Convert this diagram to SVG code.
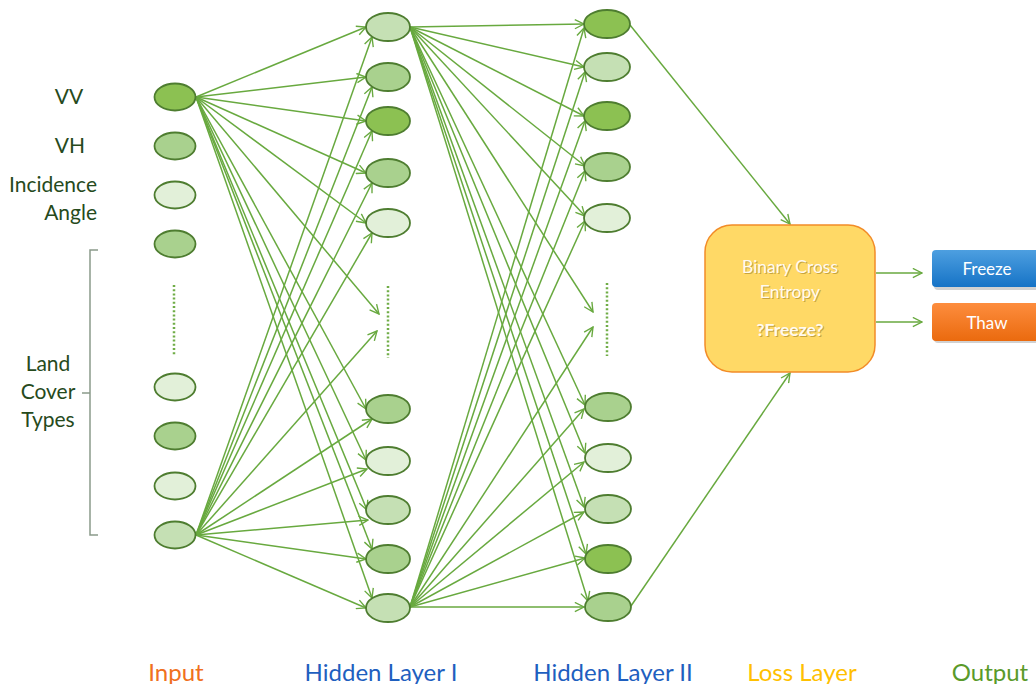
<svg xmlns="http://www.w3.org/2000/svg" width="1036" height="684" viewBox="0 0 1036 684">
<defs>
<style>
.n{stroke:#4e7d30;stroke-width:1.8}
.b{fill:#8cc152}.m{fill:#a9d18e}.l{fill:#c5e0b4}.x{fill:#e2f0d9}
.c{stroke:#68a93f;stroke-width:1.5;fill:none;marker-end:url(#ah)}
.dots{stroke:#70ad47;stroke-width:2.5;stroke-dasharray:2 2.2;fill:none}
.lbl{font-family:Lato,"Liberation Sans",sans-serif;font-size:21px;fill:#264a1c}
.ax{font-family:Lato,"Liberation Sans",sans-serif;font-size:24px;text-anchor:middle}
.lt{font-family:Lato,"Liberation Sans",sans-serif;font-size:17.5px;text-anchor:middle}
.ot{font-family:Lato,"Liberation Sans",sans-serif;font-size:17px;text-anchor:middle;fill:#ffffff}
</style>
<marker id="ah" viewBox="0 0 12 12" refX="11" refY="6" markerWidth="11" markerHeight="11" markerUnits="userSpaceOnUse" orient="auto">
<path d="M1,1 L11,6 L1,11" fill="none" stroke="#68a93f" stroke-width="1.5"/>
</marker>
<linearGradient id="gb" x1="0" y1="0" x2="0" y2="1"><stop offset="0" stop-color="#4d9fe0"/><stop offset="1" stop-color="#1673c6"/></linearGradient>
<linearGradient id="go" x1="0" y1="0" x2="0" y2="1"><stop offset="0" stop-color="#fd8d3e"/><stop offset="1" stop-color="#ea6a0e"/></linearGradient>
</defs>
<rect width="1036" height="684" fill="#ffffff"/>

<g id="connectors">
<path class="c" d="M196,97 L366,27"/>
<path class="c" d="M196,97 L366,77"/>
<path class="c" d="M196,97 L366,121"/>
<path class="c" d="M196,97 L366,173"/>
<path class="c" d="M196,97 L366,223"/>
<path class="c" d="M196,97 L379,314"/>
<path class="c" d="M196,97 L366,409"/>
<path class="c" d="M196,97 L366,460"/>
<path class="c" d="M196,97 L367,510"/>
<path class="c" d="M196,97 L372,549"/>
<path class="c" d="M196,97 L372,598"/>
<path class="c" d="M196,535 L372,37"/>
<path class="c" d="M196,535 L372,87"/>
<path class="c" d="M196,535 L372,131"/>
<path class="c" d="M196,535 L372,183"/>
<path class="c" d="M196,535 L372,233"/>
<path class="c" d="M196,535 L377,331"/>
<path class="c" d="M196,535 L372,419"/>
<path class="c" d="M196,535 L367,469"/>
<path class="c" d="M196,535 L368,520"/>
<path class="c" d="M196,535 L366,559"/>
<path class="c" d="M196,535 L366,608"/>
<path class="c" d="M410,27 L584,24"/>
<path class="c" d="M410,27 L584,67"/>
<path class="c" d="M410,27 L584,116"/>
<path class="c" d="M410,27 L585,166"/>
<path class="c" d="M410,27 L585,216"/>
<path class="c" d="M410,27 L593,312"/>
<path class="c" d="M410,27 L585,405"/>
<path class="c" d="M410,27 L585,453"/>
<path class="c" d="M410,27 L584,507"/>
<path class="c" d="M410,27 L586,554"/>
<path class="c" d="M410,27 L588,601"/>
<path class="c" d="M410,607 L584,28"/>
<path class="c" d="M410,607 L585,72"/>
<path class="c" d="M410,607 L585,121"/>
<path class="c" d="M410,607 L585,171"/>
<path class="c" d="M410,607 L585,221"/>
<path class="c" d="M410,607 L593,327"/>
<path class="c" d="M410,607 L584,409"/>
<path class="c" d="M410,607 L584,462"/>
<path class="c" d="M410,607 L584,512"/>
<path class="c" d="M410,607 L585,558"/>
<path class="c" d="M410,607 L584,607"/>
<path class="c" d="M630,25 L790,224"/>
<path class="c" d="M631,606 L790,373"/>
<path class="c" d="M876,273 L922,273"/>
<path class="c" d="M876,322 L922,322"/>
</g>

<g id="input-layer">
<ellipse class="n b" cx="175" cy="97" rx="20.5" ry="13.5"/>
<ellipse class="n m" cx="175" cy="146" rx="20.5" ry="13.5"/>
<ellipse class="n x" cx="175" cy="195" rx="20.5" ry="13.5"/>
<ellipse class="n m" cx="175" cy="244" rx="20.5" ry="13.5"/>
<path class="dots" d="M174,285 V356"/>
<ellipse class="n x" cx="175" cy="387" rx="20.5" ry="13.5"/>
<ellipse class="n m" cx="175" cy="436" rx="20.5" ry="13.5"/>
<ellipse class="n x" cx="175" cy="486" rx="20.5" ry="13.5"/>
<ellipse class="n l" cx="175" cy="535" rx="20.5" ry="13.5"/>
</g>

<g id="hidden-layer-1">
<ellipse class="n l" cx="388" cy="27" rx="22" ry="14"/>
<ellipse class="n m" cx="388" cy="77" rx="22" ry="14"/>
<ellipse class="n b" cx="388" cy="121" rx="22" ry="14"/>
<ellipse class="n m" cx="388" cy="173" rx="22" ry="14"/>
<ellipse class="n x" cx="388" cy="223" rx="22" ry="14"/>
<path class="dots" d="M388,286 V358"/>
<ellipse class="n m" cx="388" cy="409" rx="22" ry="14"/>
<ellipse class="n x" cx="388" cy="461" rx="22" ry="14"/>
<ellipse class="n l" cx="388" cy="510" rx="22" ry="14"/>
<ellipse class="n m" cx="388" cy="559" rx="22" ry="14"/>
<ellipse class="n l" cx="388" cy="608" rx="22" ry="14"/>
</g>

<g id="hidden-layer-2">
<ellipse class="n b" cx="607" cy="24" rx="23" ry="14"/>
<ellipse class="n l" cx="607" cy="67" rx="23" ry="14"/>
<ellipse class="n b" cx="607" cy="116" rx="23" ry="14"/>
<ellipse class="n m" cx="607" cy="167" rx="23" ry="14"/>
<ellipse class="n x" cx="607" cy="218" rx="23" ry="14"/>
<path class="dots" d="M607,283 V356"/>
<ellipse class="n m" cx="608" cy="407" rx="23" ry="14"/>
<ellipse class="n x" cx="608" cy="458" rx="23" ry="14"/>
<ellipse class="n l" cx="608" cy="509" rx="23" ry="14"/>
<ellipse class="n b" cx="608" cy="559" rx="23" ry="14"/>
<ellipse class="n m" cx="608" cy="607" rx="23" ry="14"/>
</g>

<g id="input-labels">
<text class="lbl" x="69" y="104" text-anchor="middle">VV</text>
<text class="lbl" x="70" y="153" text-anchor="middle">VH</text>
<text class="lbl" x="97" y="192" text-anchor="end">Incidence</text>
<text class="lbl" x="97" y="220" text-anchor="end">Angle</text>
<text class="lbl" x="48" y="371" text-anchor="middle">Land</text>
<text class="lbl" x="48" y="399" text-anchor="middle">Cover</text>
<text class="lbl" x="48" y="427" text-anchor="middle">Types</text>
<path d="M98,250 H90 V535 H98 M90,393 H82" fill="none" stroke="#8a9a8a" stroke-width="1.5"/>
</g>

<g id="loss-layer">
<rect x="705" y="225" width="170" height="147" rx="27" fill="#ffd966" stroke="#f28c28" stroke-width="1.5"/>
<g fill="#9a7a20" opacity="0.55">
<text class="lt" x="791" y="274">Binary Cross</text>
<text class="lt" x="791" y="299">Entropy</text>
<text class="lt" x="791" y="337" font-weight="bold">?Freeze?</text>
</g>
<g fill="#fffaf0">
<text class="lt" x="790" y="273">Binary Cross</text>
<text class="lt" x="790" y="298">Entropy</text>
<text class="lt" x="790" y="336" font-weight="bold">?Freeze?</text>
</g>
</g>

<g id="output-freeze">
<rect x="934" y="252" width="112" height="38" rx="4" fill="#000" opacity="0.18"/>
<rect x="932" y="250" width="112" height="37" rx="4" fill="url(#gb)"/>
<text class="ot" x="987" y="275">Freeze</text>
</g>
<g id="output-thaw">
<rect x="934" y="305" width="112" height="38" rx="4" fill="#000" opacity="0.18"/>
<rect x="932" y="303" width="112" height="38" rx="4" fill="url(#go)"/>
<text class="ot" x="987" y="329">Thaw</text>
</g>

<g id="axis-labels">
<text class="ax" x="176" y="681" fill="#f07020">Input</text>
<text class="ax" x="381" y="681" fill="#1f5fbf">Hidden Layer I</text>
<text class="ax" x="613" y="681" fill="#1f5fbf">Hidden Layer II</text>
<text class="ax" x="802" y="681" fill="#ffc000">Loss Layer</text>
<text class="ax" x="990" y="681" fill="#5a9a2a">Output</text>
</g>
</svg>
